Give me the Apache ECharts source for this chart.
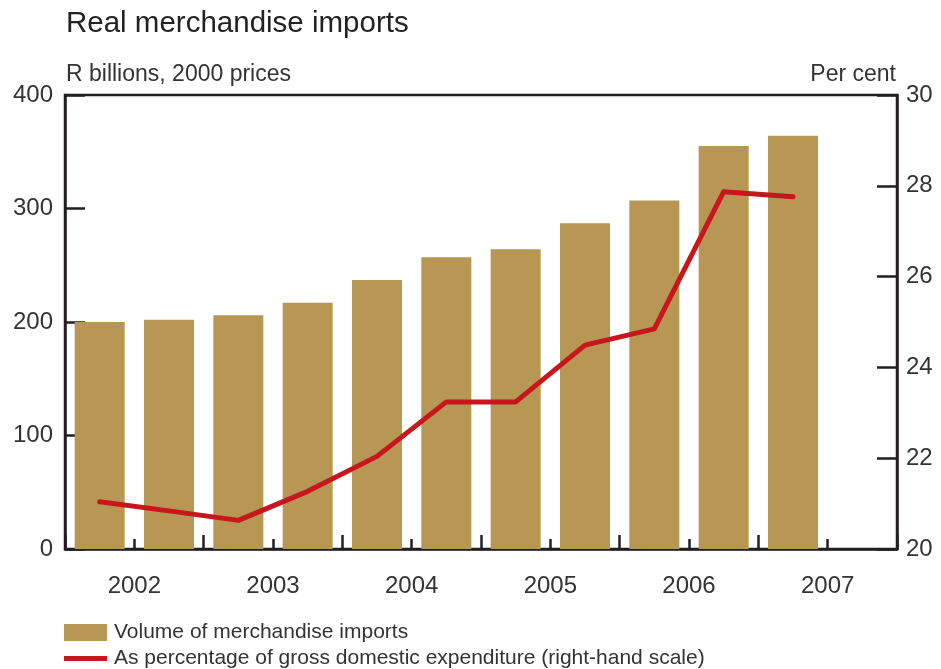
<!DOCTYPE html>
<html>
<head>
<meta charset="utf-8">
<script src="https://cdn.jsdelivr.net/npm/echarts@6/dist/echarts.min.js"></script>
<style>
  html, body { margin: 0; padding: 0; background: #fff; }
  #chart { width: 941px; height: 669px; }
</style>
</head>
<body>
<div id="chart"></div>
<script>
// Half-yearly periods (the last half of 2007 has no data yet)
const periods = ['2002 H1', '2002 H2', '2003 H1', '2003 H2', '2004 H1', '2004 H2',
                 '2005 H1', '2005 H2', '2006 H1', '2006 H2', '2007 H1', '2007 H2'];
const years = ['2002', '2003', '2004', '2005', '2006', '2007'];

// Volume of merchandise imports, R billions at 2000 prices
const importVolume = [200, 202, 206, 217, 237, 257, 264, 287, 307, 355, 364, null];

// Imports as a percentage of gross domestic expenditure
const importShare = [21.04, 20.84, 20.63, 21.27, 22.04, 23.24, 23.24, 24.49, 24.85, 27.87, 27.76, null];

const leftTicks = [0, 100, 200, 300, 400];
const rightTicks = [20, 22, 24, 26, 28, 30];

const barName = 'Volume of merchandise imports';
const lineName = 'As percentage of gross domestic expenditure (right-hand scale)';

const ink = '#231f20';
const textColor = '#333333';
const font = '"Liberation Sans", Arial, sans-serif';

const chart = echarts.init(document.getElementById('chart'), null, { renderer: 'canvas' });

chart.setOption({
  animation: false,
  backgroundColor: '#ffffff',
  textStyle: { fontFamily: font },
  title: [
    { text: 'Real merchandise imports', left: 61, top: 4,
      textStyle: { fontSize: 29.5, fontWeight: 'normal', color: '#222', fontFamily: font } },
    { text: 'R billions, 2000 prices', left: 61, top: 58,
      textStyle: { fontSize: 23, fontWeight: 'normal', color: textColor, fontFamily: font } },
    { text: 'Per cent', right: 40, top: 58,
      textStyle: { fontSize: 23, fontWeight: 'normal', color: textColor, fontFamily: font } }
  ],
  legend: [
    { left: 59, top: 617, itemWidth: 43, itemHeight: 17, itemGap: 10, icon: 'rect',
      data: [barName], selectedMode: false,
      textStyle: { fontSize: 21, color: textColor, fontFamily: font, padding: [0, 0, 0, 2] } },
    { left: 59, top: 643, itemWidth: 43, itemHeight: 5, icon: 'rect',
      data: [lineName], selectedMode: false,
      textStyle: { fontSize: 21, color: textColor, fontFamily: font, padding: [0, 0, 0, 2] } }
  ],
  grid: {
    left: 65, right: 44, top: 95, bottom: 120,
    show: true, borderColor: ink, borderWidth: 2.5, backgroundColor: 'transparent'
  },
  xAxis: [
    {
      type: 'category', data: periods, boundaryGap: true, position: 'bottom',
      axisLine: { show: true, lineStyle: { color: ink, width: 2.5 } },
      axisTick: { show: true, inside: true, length: 10, interval: 0, lineStyle: { color: ink, width: 2.5 } },
      axisLabel: { show: false },
      splitLine: { show: false }
    },
    {
      type: 'category', data: years, boundaryGap: true, position: 'bottom',
      axisLine: { show: false },
      axisTick: { show: true, inside: true, length: 14, interval: 0, lineStyle: { color: ink, width: 2.5 } },
      axisLabel: { show: true, margin: 25, fontSize: 24, color: textColor, fontFamily: font },
      splitLine: { show: false }
    }
  ],
  yAxis: [
    {
      type: 'value', min: leftTicks[0], max: leftTicks[leftTicks.length - 1], interval: 100,
      position: 'left',
      axisLine: { show: true, lineStyle: { color: ink, width: 2.5 } },
      axisTick: { show: true, inside: true, length: 20, lineStyle: { color: ink, width: 2.5 } },
      axisLabel: { margin: 12, fontSize: 24, color: textColor, fontFamily: font },
      splitLine: { show: false }
    },
    {
      type: 'value', min: rightTicks[0], max: rightTicks[rightTicks.length - 1], interval: 2,
      position: 'right',
      axisLine: { show: true, lineStyle: { color: ink, width: 2.5 } },
      axisTick: { show: true, inside: true, length: 20, lineStyle: { color: ink, width: 2.5 } },
      axisLabel: { margin: 9, fontSize: 24, color: textColor, fontFamily: font },
      splitLine: { show: false }
    }
  ],
  series: [
    {
      name: barName, type: 'bar', xAxisIndex: 0, yAxisIndex: 0,
      data: importVolume, barWidth: 50,
      itemStyle: { color: '#b89654' }
    },
    {
      name: lineName, type: 'line', xAxisIndex: 0, yAxisIndex: 1,
      data: importShare, showSymbol: false, symbol: 'none', connectNulls: false,
      lineStyle: { color: '#c8161d', width: 5, join: 'round', cap: 'round' },
      itemStyle: { color: '#c8161d' },
      z: 5
    }
  ]
});
</script>
</body>
</html>
